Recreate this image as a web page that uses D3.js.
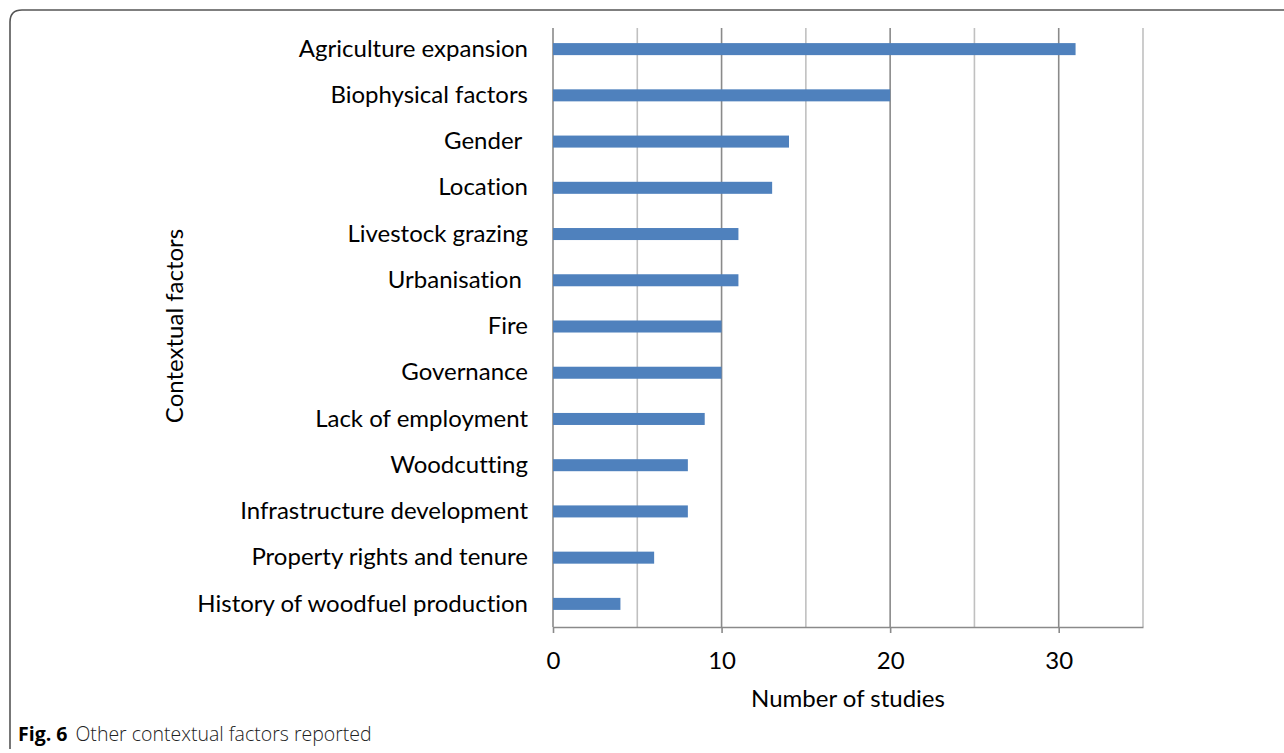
<!DOCTYPE html>
<html><head><meta charset="utf-8">
<script src="https://cdn.jsdelivr.net/npm/d3@7"></script>
<style>
html,body{margin:0;padding:0;background:#fff;}
svg{display:block;}
text{white-space:pre;font-variant-ligatures:none;font-feature-settings:"liga" 0;}
</style></head>
<body>
<svg id="c" width="1284" height="753"></svg>
<script>
const categories = ["Agriculture expansion","Biophysical factors","Gender ","Location","Livestock grazing","Urbanisation ","Fire","Governance","Lack of employment","Woodcutting","Infrastructure development","Property rights and tenure","History of woodfuel production"];
const values = [31,20,14,13,11,11,10,10,9,8,8,6,4];
const xTicks = [0,10,20,30];
const gridTicks = [0,5,10,15,20,25,30,35];
const xTitle = "Number of studies";
const yTitle = "Contextual factors";
const captionBold = "Fig. 6";
const captionText = "Other contextual factors reported";

(function(){
const svg = d3.select("#c");
const font = "Lato, 'Open Sans', sans-serif";
const fs = 24;

// frame
svg.append("path")
  .attr("d","M10,749 L10,22 Q10,10 22,10 L1284,10")
  .attr("fill","none").attr("stroke","#555").attr("stroke-width",1.6);

const pL = 553, pR = 1143, pT = 26, pB = 627;
const x = d3.scaleLinear().domain([0,35]).range([pL,pR]);
const y = d3.scaleBand().domain(categories).range([pT,pB]).paddingInner(0.74).paddingOuter(0.37);

// gridlines
svg.append("g").selectAll("line").data(gridTicks).join("line")
  .attr("x1",d=>x(d)).attr("x2",d=>x(d))
  .attr("y1",pT+2).attr("y2",pB)
  .attr("stroke",d=>d%10===0?"#8a8a8a":"#c0c0c0").attr("stroke-width",1.6);

// bars
svg.append("g").selectAll("rect").data(values).join("rect")
  .attr("x",x(0)).attr("y",(d,i)=>y(categories[i]))
  .attr("width",d=>x(d)-x(0)).attr("height",y.bandwidth())
  .attr("fill","#4f81bd");

// x axis
const xAxis = d3.axisBottom(x).tickValues(xTicks).tickSize(6).tickPadding(19).tickSizeOuter(0);
const gx = svg.append("g").attr("transform",`translate(0,${pB})`).call(xAxis);
gx.select(".domain").attr("stroke","#8a8a8a").attr("stroke-width",1.6);
gx.selectAll(".tick line").attr("stroke","#8a8a8a").attr("stroke-width",1.6);
gx.selectAll(".tick text").attr("font-family",font).attr("font-size",fs).attr("fill","#000");

// y labels
const yAxis = d3.axisLeft(y).tickSize(0).tickPadding(25);
const gy = svg.append("g").attr("transform",`translate(${pL},0)`).call(yAxis);
gy.select(".domain").remove();
gy.selectAll(".tick text").attr("font-family",font).attr("font-size",fs).attr("fill","#000");

// titles
svg.append("text").attr("x",848).attr("y",707).attr("text-anchor","middle")
  .attr("font-family",font).attr("font-size",fs).text(xTitle);
svg.append("text").attr("transform","translate(183,326) rotate(-90)").attr("text-anchor","middle")
  .attr("font-family",font).attr("font-size",fs).text(yTitle);

// caption
const cap = svg.append("text").attr("x",18).attr("y",741)
  .attr("font-family","'Open Sans', sans-serif").attr("font-size",19.5);
cap.append("tspan").attr("font-weight",700).text(captionBold);
cap.append("tspan").attr("dx",8).attr("font-weight",300).attr("fill","#222").text(captionText);
})();
</script>
</body></html>
